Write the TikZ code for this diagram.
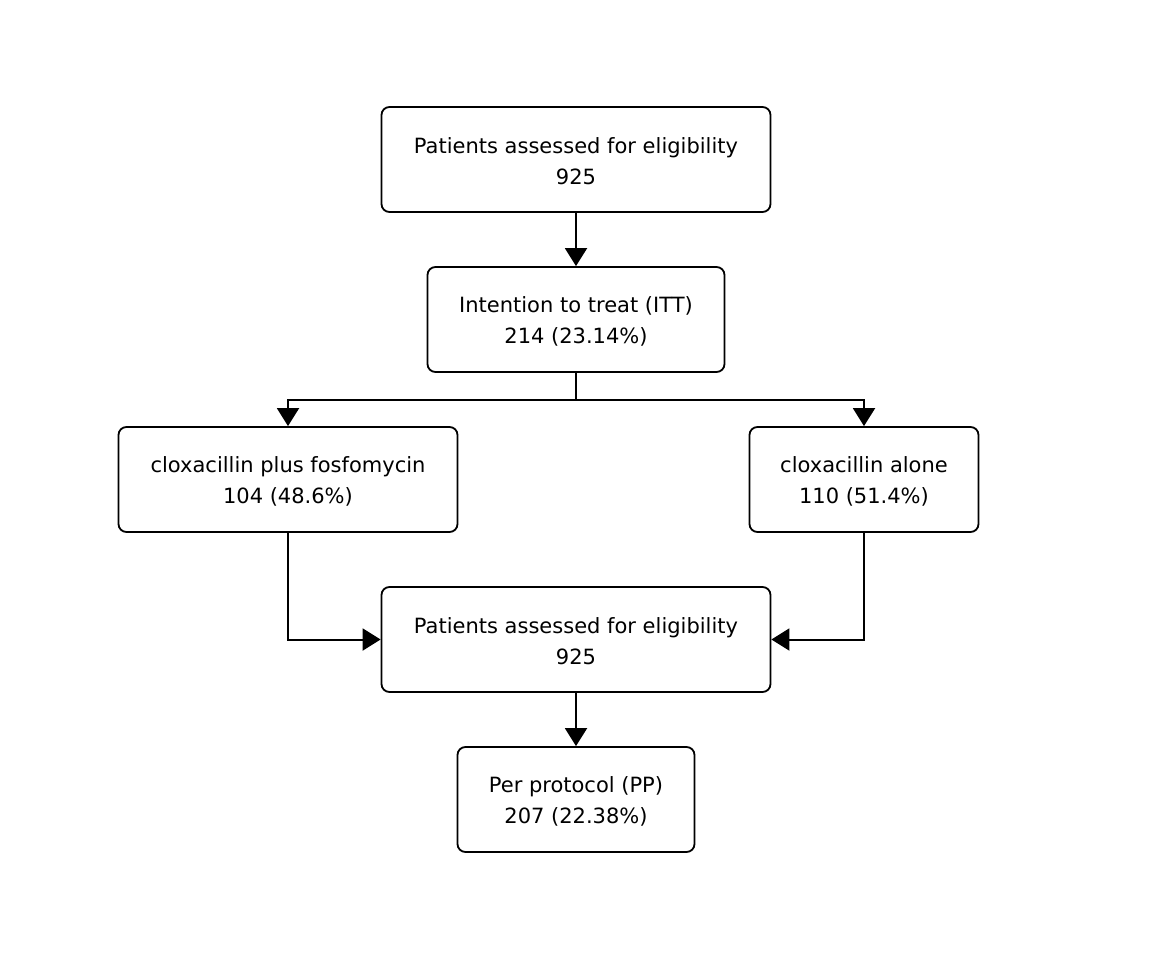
\documentclass[tikz,border=0pt]{standalone}
\usepackage{fontspec}
\setmainfont{DejaVu Sans}
\usetikzlibrary{arrows.meta}
\newcommand{\topstrut}{\rule{0pt}{20pt}}
\begin{document}
\begin{tikzpicture}[x=1pt,y=-1pt,
  box/.style={draw,line width=1.8pt,rounded corners=8pt,align=center,inner sep=0pt,
    minimum height=105pt,font=\fontsize{21}{31}\selectfont},
  conn/.style={line width=2pt,-{Triangle[length=18pt,width=22pt]}},
  plain/.style={line width=2pt}]
\useasboundingbox (0,0) rectangle (1152,960);
\node[box,minimum width=389pt] (a) at (576,159.5) {\topstrut Patients assessed for eligibility\\925};
\node[box,minimum width=297pt] (b) at (576,319.5) {\topstrut Intention to treat (ITT)\\214 (23.14\%)};
\node[box,minimum width=339pt] (c) at (288,479.5) {\topstrut cloxacillin plus fosfomycin\\104 (48.6\%)};
\node[box,minimum width=229pt] (d) at (864,479.5) {\topstrut cloxacillin alone\\110 (51.4\%)};
\node[box,minimum width=389pt] (e) at (576,639.5) {\topstrut Patients assessed for eligibility\\925};
\node[box,minimum width=237pt] (f) at (576,799.5) {\topstrut Per protocol (PP)\\207 (22.38\%)};
\coordinate (j) at (576,400);
\draw[conn] (a) -- (b);
\draw[plain] (b.south) -- (j);
\draw[conn] (j) -| (c.north);
\draw[conn] (j) -| (d.north);
\draw[conn] (c.south) |- (e.west);
\draw[conn] (d.south) |- (e.east);
\draw[conn] (e) -- (f);
\end{tikzpicture}
\end{document}
